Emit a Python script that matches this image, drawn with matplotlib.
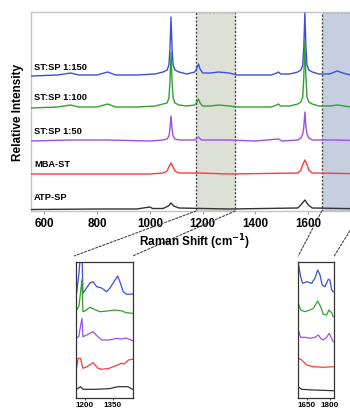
import matplotlib
matplotlib.use("Agg")
import matplotlib.pyplot as plt
from matplotlib.patches import Rectangle, ConnectionPatch

plt.rcParams['font.family'] = ['Liberation Sans', 'DejaVu Sans']
plt.rcParams['font.weight'] = 'bold'

# ---------------- data ----------------
labels = ["ST:SP 1:150", "ST:SP 1:100", "ST:SP 1:50", "MBA-ST", "ATP-SP"]
colors = ["#3a50dc", "#2ea22e", "#9b4ff0", "#ff3a3a", "#333333"]
label_y = [143.3, 113.3, 80.0, 46.7, 13.7]

# main spectra (x in cm-1, y = offset relative intensity)
blue_x = [550, 650, 700, 730, 800, 840, 870, 950, 1020, 1050, 1065, 1072, 1076, 1080, 1084, 1088, 1095, 1110,
          1140, 1170, 1178, 1184, 1190, 1200, 1230, 1260, 1300, 1330, 1400, 1460, 1480, 1487, 1495, 1530,
          1560, 1572, 1579, 1583, 1587, 1591, 1595, 1602, 1615, 1640, 1680, 1700, 1710, 1730, 1760, 1850]
blue_y = [135, 136, 138, 136, 136, 139, 136, 136, 137, 139, 141, 146, 162, 194, 162, 146, 141, 139,
          137, 139, 143, 147, 142, 138, 138, 139, 138, 136, 136, 136, 138, 139, 137, 137,
          139, 141, 146, 164, 198, 164, 146, 141, 139, 137, 137, 139, 140, 138, 136, 136]

green_x = [550, 650, 700, 730, 800, 840, 870, 950, 1020, 1050, 1065, 1072, 1076, 1080, 1084, 1088, 1095, 1110,
           1140, 1170, 1178, 1184, 1190, 1200, 1230, 1260, 1300, 1330, 1400, 1460, 1480, 1487, 1495, 1530,
           1560, 1572, 1579, 1583, 1587, 1591, 1595, 1602, 1615, 1640, 1680, 1710, 1760, 1850]
green_y = [103, 104, 106, 104, 104, 107, 104, 104, 105, 107, 108, 113, 129, 159, 129, 113, 108, 106,
           105, 106, 109, 112, 108, 105, 105, 106, 105, 104, 104, 104, 106, 107, 105, 105,
           107, 109, 114, 134, 170, 134, 114, 109, 107, 105, 105, 106, 104, 103]

purple_x = [550, 700, 840, 1000, 1050, 1065, 1072, 1076, 1080, 1084, 1088, 1095, 1110, 1170, 1184, 1195,
            1300, 1400, 1487, 1500, 1560, 1572, 1579, 1583, 1587, 1591, 1595, 1602, 1615, 1700, 1850]
purple_y = [70, 71, 71, 70, 71, 72, 75, 82, 95, 82, 75, 72, 71, 71, 74, 71,
            71, 70, 72, 70, 71, 73, 77, 84, 99, 84, 77, 73, 71, 71, 70]

red_x = [550, 1000, 1050, 1065, 1072, 1080, 1088, 1095, 1110, 1184, 1300, 1560, 1572, 1580, 1587, 1594,
         1602, 1615, 1850]
red_y = [37, 37, 38, 40, 44, 48, 44, 40, 38, 38, 37, 38, 41, 47, 51, 47, 41, 38, 37]

black_x = [550, 800, 950, 1000, 1010, 1050, 1070, 1080, 1090, 1110, 1300, 1560, 1575, 1587, 1600, 1615, 1850]
black_y = [1.5, 2, 2, 4, 2.5, 2.5, 5, 8, 5, 3, 2, 3, 7, 11, 6, 3, 2]

main_x = [blue_x, green_x, purple_x, red_x, black_x]
main_y = [blue_y, green_y, purple_y, red_y, black_y]

# zoom region 1 (1150-1460 cm-1)
z1_blue_x = [1155, 1168, 1176, 1184, 1189, 1227, 1243, 1263, 1289, 1316, 1334, 1361, 1375, 1387, 1405, 1423, 1455]
z1_blue_y = [104.7, 125, 145, 145, 104.7, 115, 116.3, 111.3, 110, 106.3, 110, 118, 122, 116.3, 106.3, 103.7, 104]
z1_green_x = [1155, 1168, 1176, 1184, 1189, 1200, 1227, 1250, 1280, 1320, 1360, 1400, 1420, 1455]
z1_green_y = [88, 92, 105, 118.7, 86.3, 87, 90.7, 88.7, 86.3, 87, 88, 87, 85.3, 84.7]
z1_purple_x = [1155, 1168, 1176, 1184, 1189, 1210, 1243, 1265, 1290, 1330, 1370, 1395, 1420, 1455]
z1_purple_y = [59.7, 62, 72, 79.7, 61.3, 63, 66.3, 62, 58, 58, 59.7, 59, 60, 57.3]
z1_red_x = [1155, 1163, 1176, 1189, 1210, 1243, 1270, 1290, 1330, 1375, 1395, 1410, 1433, 1455]
z1_red_y = [29.7, 39.7, 39.7, 29.7, 31.3, 35.3, 29.7, 28.7, 29.7, 33, 34.7, 34, 38, 38.7]
z1_black_x = [1155, 1176, 1189, 1250, 1330, 1375, 1430, 1455]
z1_black_y = [8.7, 11.3, 8.7, 8.7, 9.3, 11.3, 11.3, 8.7]

z1_x = [z1_blue_x, z1_green_x, z1_purple_x, z1_red_x, z1_black_x]
z1_y = [z1_blue_y, z1_green_y, z1_purple_y, z1_red_y, z1_black_y]

# zoom region 2 (1596-1828 cm-1)
z2_blue_x = [1596, 1611, 1624, 1650, 1682, 1703, 1721, 1736, 1750, 1768, 1789, 1800, 1811, 1821]
z2_blue_y = [134.7, 121.3, 114.7, 116.3, 114.7, 119.7, 128, 123, 113, 111.3, 118.7, 118, 108, 106.3]
z2_green_x = [1596, 1611, 1639, 1671, 1693, 1721, 1740, 1757, 1779, 1793, 1811, 1821]
z2_green_y = [94.7, 88, 86.3, 88, 89.7, 97, 91.3, 83.7, 83, 88, 85.3, 81.3]
z2_purple_x = [1596, 1611, 1639, 1671, 1703, 1725, 1740, 1757, 1779, 1795, 1811, 1821]
z2_purple_y = [68, 60.7, 60.7, 59.7, 60.7, 63, 59.7, 58, 60.7, 64.7, 59.7, 56.3]
z2_red_x = [1596, 1618, 1650, 1693, 1757, 1821]
z2_red_y = [39.7, 38, 33, 31.3, 30.7, 31.3]
z2_black_x = [1596, 1618, 1693, 1821]
z2_black_y = [11.3, 8.7, 8.0, 7.3]

z2_x = [z2_blue_x, z2_green_x, z2_purple_x, z2_red_x, z2_black_x]
z2_y = [z2_blue_y, z2_green_y, z2_purple_y, z2_red_y, z2_black_y]

main_ticks = [600, 800, 1000, 1200, 1400, 1600]
z1_ticks = [1200, 1350]
z2_ticks = [1650, 1800]

region1 = (1175, 1323)
region2 = (1651, 1804)

# ---------------- figure ----------------
W, H = 350, 409
fig = plt.figure(figsize=(W / 100, H / 100), dpi=100)

def fbox(x0, y0, x1, y1):
    return [x0 / W, 1 - y1 / H, (x1 - x0) / W, (y1 - y0) / H]

ax = fig.add_axes(fbox(30.7, 12, 374.3, 211))
ax.set_xlim(548.5, 1850)
ax.set_ylim(0, 199)
for s in ax.spines.values():
    s.set_color("#c4c4c4")
    s.set_linewidth(1.0)
ax.set_yticks([])
ax.set_xticks(main_ticks)
ax.set_xticklabels([str(t) for t in main_ticks], fontsize=8.4, fontweight='bold')
ax.tick_params(axis='x', length=2, width=0.6, color="#888888", pad=3)

ax.add_patch(Rectangle((region1[0], 0), region1[1] - region1[0], 198.5, facecolor="#dde0d6",
                       edgecolor="#444444", linestyle=(0, (1.5, 1.2)), linewidth=1.0, zorder=1))
ax.add_patch(Rectangle((region2[0], 0), region2[1] - region2[0], 198.5, facecolor="#c6cfe0",
                       edgecolor="#444444", linestyle=(0, (1.5, 1.2)), linewidth=1.0, zorder=1))

for xs, ys, c in zip(main_x, main_y, colors):
    ax.plot(xs, ys, color=c, lw=1.0, zorder=3, clip_on=True)
for lab, ly in zip(labels, label_y):
    ax.text(561, ly, lab, fontsize=6.7, fontweight='bold', va='center', ha='left', zorder=4)

fig.text(195 / W, 1 - 242 / H, "Raman Shift (cm$^{\\mathbf{-1}}$)", fontsize=8.5, fontweight='bold',
         ha='center', va='center')
fig.text(18 / W, 1 - 112.5 / H, "Relative Intensity", fontsize=8.5, fontweight='bold',
         ha='center', va='center', rotation=90)

def make_inset(rect, xlim, xs_list, ys_list, ticks):
    a = fig.add_axes(rect)
    a.set_xlim(*xlim)
    a.set_ylim(0, 136)
    for s in a.spines.values():
        s.set_color("#333333")
        s.set_linewidth(0.9)
    a.set_yticks([])
    a.set_xticks(ticks)
    a.set_xticklabels([str(t) for t in ticks], fontsize=5.8, fontweight='bold')
    a.tick_params(axis='x', length=1.5, width=0.5, pad=1.5)
    for xs, ys, c in zip(xs_list, ys_list, colors):
        a.plot(xs, ys, color=c, lw=0.9)
    return a

in1 = make_inset(fbox(76, 262, 133, 398), (1152, 1457), z1_x, z1_y, z1_ticks)
in2 = make_inset(fbox(298.3, 262, 334.3, 398), (1596, 1828), z2_x, z2_y, z2_ticks)

for (x0, ins, bx) in [(region1[0], in1, -0.03), (region1[1], in1, 1.0),
                      (region2[0], in2, 0.0), (region2[1], in2, 1.0)]:
    cp = ConnectionPatch(xyA=(x0, 0), coordsA=ax.transData, xyB=(bx, 1.045), coordsB=ins.transAxes,
                         color="#444444", lw=0.8, linestyle=(0, (2, 1.5)))
    fig.add_artist(cp)

fig.savefig("out.png", dpi=100)
